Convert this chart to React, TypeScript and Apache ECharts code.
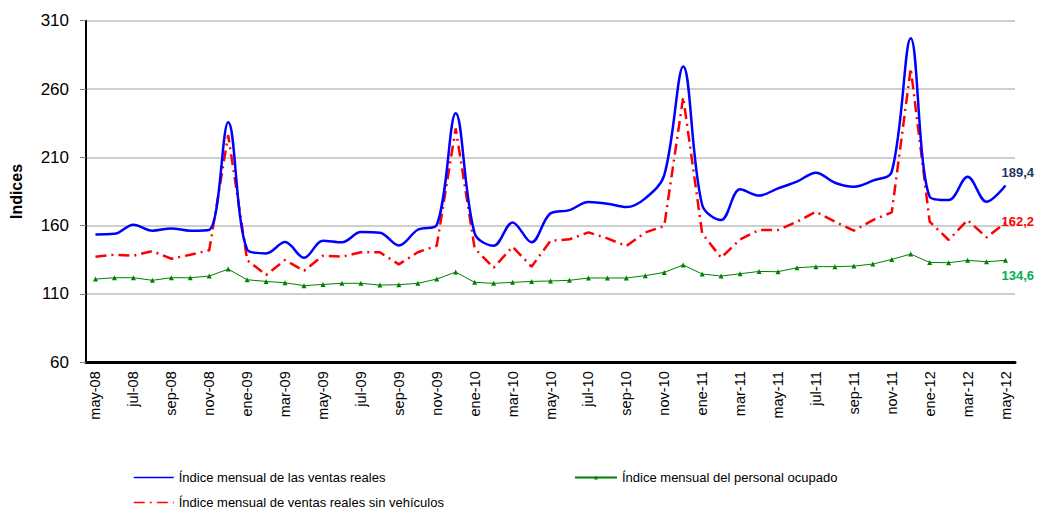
import React, { useEffect, useRef } from "react";
import * as echarts from "echarts";

const months = ["may", "jun", "jul", "ago", "sep", "oct", "nov", "dic", "ene", "feb", "mar", "abr"];
const categories: string[] = [];
for (let i = 0; i < 49; i++) {
  const y = 2008 + Math.floor((4 + i) / 12);
  categories.push(months[i % 12] + "-" + String(y).slice(2));
}

const ventasReales = [
  153.6, 154, 160.7, 156.3, 158, 156.3, 157, 235.6, 142.6, 139.7, 148, 136.5,
  149, 147.8, 155.3, 154.8, 145.5, 157, 160.5, 242.2, 154.4, 145.3, 162.4, 147.8,
  169, 171.4, 177.3, 176.1, 173.6, 180, 197, 276.5, 175.1, 164.1, 186.6, 182,
  187.3, 192.2, 198.8, 191.4, 188.5, 192.9, 199.5, 297.1, 181.2, 178.7, 195.8, 177.5,
  189.4,
];
const ventasSinVehiculos = [
  137.3, 138.7, 138, 141.4, 135.8, 138.7, 142, 226.3, 134.8, 123.9, 134.8, 127,
  138, 137.3, 140.5, 140.5, 131.7, 140.5, 145.3, 231.2, 143.4, 129.2, 144.6, 130,
  148.9, 150, 155.1, 150.7, 145.1, 155, 159.7, 254, 154.4, 136.5, 150, 156.8,
  156.8, 162.9, 170.2, 162.9, 156.3, 164.1, 169.7, 275.1, 162.9, 149.5, 164.1, 151.4,
  162.2,
];
const personalOcupado = [
  120.9, 121.9, 121.9, 120, 121.9, 121.9, 123.1, 128.2, 120.4, 119.2, 118.2, 116.1,
  117, 117.8, 117.8, 116.5, 116.8, 117.8, 120.9, 126, 118.5, 117.8, 118.5, 119.2,
  119.5, 120, 121.7, 121.7, 121.7, 123.4, 125.8, 131.2, 124.6, 123.1, 124.8, 126.5,
  126.3, 129.2, 130, 130, 130.4, 131.9, 135.3, 139.2, 133.1, 132.9, 134.6, 133.6,
  134.6,
];

const nameBlue = "Índice mensual de las ventas reales";
const nameGreen = "Índice mensual del personal ocupado";
const nameRed = "Índice mensual de ventas reales sin vehículos";

const fmt = (p: any) => String(Array.isArray(p.value) ? p.value[1] : p.value).replace(".", ",");

export default function App() {
  const ref = useRef<HTMLDivElement>(null);
  useEffect(() => {
    document.body.style.margin = "0";
    const chart = echarts.init(ref.current!, null, { renderer: "svg" });
    const font = "Liberation Sans, Arial, sans-serif";
    const legendText = { fontSize: 13, color: "#000", fontFamily: font };
    chart.setOption({
      animation: false,
      backgroundColor: "#ffffff",
      textStyle: { fontFamily: font },
      grid: { left: 85, right: 22, top: 20.7, bottom: 150.7, containLabel: false },
      legend: [
        {
          data: [nameBlue],
          left: 128,
          top: 466,
          itemWidth: 40,
          itemHeight: 14,
          itemGap: 6,
          itemStyle: { opacity: 0 },
          lineStyle: { width: 1.5 },
          textStyle: legendText,
        },
        {
          data: [nameGreen],
          left: 569,
          top: 466,
          itemWidth: 42,
          itemHeight: 5,
          itemGap: 6,
          textStyle: legendText,
        },
        {
          data: [nameRed],
          left: 128,
          top: 491,
          itemWidth: 40,
          itemHeight: 14,
          itemGap: 6,
          itemStyle: { opacity: 0 },
          lineStyle: { width: 1.5 },
          textStyle: legendText,
        },
      ],
      xAxis: {
        type: "category",
        data: categories,
        boundaryGap: true,
        axisLine: { lineStyle: { color: "#000", width: 3 } },
        axisTick: { interval: 1, length: 5, lineStyle: { color: "#000", width: 1 } },
        axisLabel: {
          interval: 1,
          rotate: 90,
          fontSize: 14.5,
          color: "#000",
          margin: 9,
          fontFamily: font,
        },
        splitLine: { show: false },
      },
      yAxis: {
        type: "value",
        min: 60,
        max: 310,
        interval: 50,
        name: "Indices",
        nameLocation: "middle",
        nameGap: 62,
        nameTextStyle: { fontSize: 16, fontWeight: "bold", color: "#000", fontFamily: font },
        axisLine: { show: true, lineStyle: { color: "#000", width: 2 } },
        axisTick: { show: true, length: 6, lineStyle: { color: "#808080" } },
        axisLabel: { fontSize: 17, color: "#000", margin: 17, fontFamily: font },
        splitLine: { lineStyle: { color: "#BFBFBF", width: 1.5 } },
      },
      series: [
        {
          name: nameBlue,
          type: "line",
          data: ventasReales,
          smooth: 0.35,
          symbol: "none",
          lineStyle: { color: "#0000FF", width: 2.5 },
          itemStyle: { color: "#0000FF" },
          endLabel: {
            show: true,
            formatter: fmt,
            distance: 0,
            offset: [-4, -13],
            color: "#1F3864",
            fontWeight: "bold",
            fontSize: 13,
            fontFamily: font,
          },
          z: 3,
        },
        {
          name: nameGreen,
          type: "line",
          data: personalOcupado,
          symbol: "triangle",
          symbolSize: 5,
          lineStyle: { color: "#008000", width: 1 },
          itemStyle: { color: "#008000" },
          endLabel: {
            show: true,
            formatter: fmt,
            distance: 0,
            offset: [-4, 15],
            color: "#00B050",
            fontWeight: "bold",
            fontSize: 13,
            fontFamily: font,
          },
          z: 2,
        },
        {
          name: nameRed,
          type: "line",
          data: ventasSinVehiculos,
          symbol: "none",
          lineStyle: { color: "#FF0000", width: 2.5, type: [11, 5, 2, 5] },
          itemStyle: { color: "#FF0000" },
          endLabel: {
            show: true,
            formatter: fmt,
            distance: 0,
            offset: [-4, -1.5],
            color: "#FF0000",
            fontWeight: "bold",
            fontSize: 13,
            fontFamily: font,
          },
          z: 2,
        },
      ],
    });
    return () => chart.dispose();
  }, []);
  return <div ref={ref} style={{ width: 1037, height: 513 }} />;
}
